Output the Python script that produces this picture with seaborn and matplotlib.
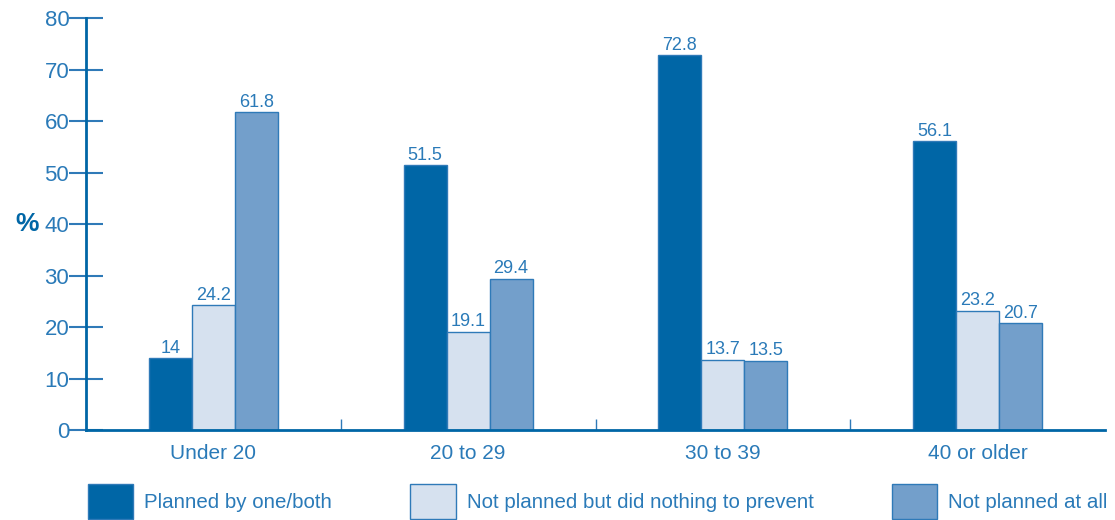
import matplotlib
matplotlib.use("Agg")
import matplotlib.pyplot as plt
import seaborn as sns
import pandas as pd
from matplotlib.patches import Patch

categories = ["Under 20", "20 to 29", "30 to 39", "40 or older"]
series = ["Planned by one/both", "Not planned but did nothing to prevent", "Not planned at all"]
planned = [14, 51.5, 72.8, 56.1]
did_nothing = [24.2, 19.1, 13.7, 23.2]
not_planned = [61.8, 29.4, 13.5, 20.7]
labels = [["14", "51.5", "72.8", "56.1"],
          ["24.2", "19.1", "13.7", "23.2"],
          ["61.8", "29.4", "13.5", "20.7"]]
yticks = [0, 10, 20, 30, 40, 50, 60, 70, 80]

rows = []
for s, vals in zip(series, [planned, did_nothing, not_planned]):
    for c, v in zip(categories, vals):
        rows.append({"age": c, "series": s, "value": v})
df = pd.DataFrame(rows)

sns.set_theme(style="white")
plt.rcParams["font.family"] = ["Liberation Sans", "DejaVu Sans"]

dark = "#0066a6"
light = "#d6e1ef"
mid = "#739fcb"
edge = "#2f7ab8"
txt = "#2a7ab8"
palette = {series[0]: dark, series[1]: light, series[2]: mid}

fig = plt.figure(figsize=(11.15, 5.2), dpi=100)
ax = fig.add_axes([0.0771, 0.173, 0.914, 0.792])
sns.barplot(data=df, x="age", y="value", hue="series", hue_order=series,
            palette=palette, width=0.506, ax=ax, legend=False,
            edgecolor=edge, linewidth=1.0, saturation=1)

for cont, labs in zip(ax.containers, labels):
    ax.bar_label(cont, labels=labs, padding=1, color=txt, fontsize=13)

ax.set_xlim(-0.5, 3.5)
ax.set_ylim(0, 80)
ax.set_yticks(yticks)
ax.set_ylabel("%", rotation=0, fontsize=19, fontweight="bold", color=dark)
ax.yaxis.set_label_coords(-0.058, 0.47)
ax.set_xlabel("")
for sp in ["top", "right"]:
    ax.spines[sp].set_visible(False)
for sp in ["left", "bottom"]:
    ax.spines[sp].set_color(dark)
    ax.spines[sp].set_linewidth(2)
ax.tick_params(axis="y", direction="inout", length=24, width=1.5, color=edge,
               labelcolor=txt, labelsize=16, pad=0, left=True)
ax.tick_params(axis="x", bottom=False, labelcolor=txt, labelsize=15, pad=4)
# category boundary ticks
ax.set_xticks([0.5, 1.5, 2.5], minor=True)
ax.tick_params(axis="x", which="minor", direction="in", length=8, width=1, color=edge, bottom=True)

handles = [Patch(facecolor=palette[s], edgecolor=edge, linewidth=1) for s in series]
fig.legend(handles, series, loc="lower left", bbox_to_anchor=(0.0714, -0.014), ncol=3,
           frameon=False, fontsize=14.8, handlelength=2.2, handleheight=2.25,
           handletextpad=0.55, columnspacing=3.8, labelcolor=txt, borderaxespad=0)

fig.savefig("out.png", dpi=100)
